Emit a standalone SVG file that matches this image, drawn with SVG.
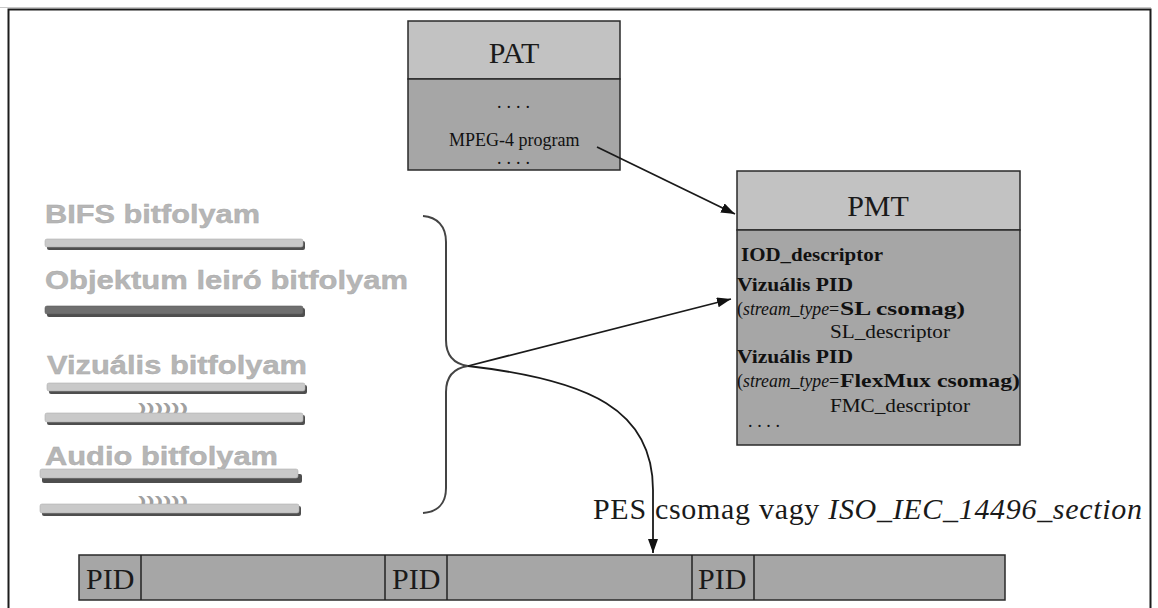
<svg xmlns="http://www.w3.org/2000/svg" width="1158" height="608" viewBox="0 0 1158 608">
<defs>
<style>
.frame{stroke:#1c1c1c;stroke-width:2;fill:none}
.hdr{fill:#c2c2c2;stroke:#2a2a2a;stroke-width:1.5}
.body{fill:#a6a6a6;stroke:#2a2a2a;stroke-width:1.5}
.conn{stroke:#1a1a1a;stroke-width:1.8;fill:none}
.brace{stroke:#444;stroke-width:2;fill:none}
.big{font-family:"Liberation Serif","Times New Roman",serif;font-size:30px;fill:#1a1a1a}
.t{font-family:"Liberation Serif","Times New Roman",serif;font-size:18px;fill:#111}
.b{font-weight:bold}
.i{font-style:italic}
.gray{font-family:"Liberation Sans",Arial,sans-serif;font-weight:bold;font-size:25px;fill:#b6b6b6;stroke:#a8a8a8;stroke-width:0.4}
.tick{font-family:"Liberation Sans",Arial,sans-serif;font-weight:bold;font-size:12px;fill:#a0a0a0}
.barL{fill:#c9c9c9;stroke:#b0b0b0;stroke-width:0.6}
.barD{fill:#6f6f6f;stroke:#5a5a5a;stroke-width:0.6}
.shadow{fill:#4e4e4e}
</style>
<marker id="ah" markerUnits="userSpaceOnUse" markerWidth="15" markerHeight="11" refX="14" refY="5" orient="auto">
<path d="M0,0 L14,5 L0,10 z" fill="#111"/>
</marker>
</defs>
<rect width="1158" height="608" fill="#ffffff"/>
<g id="frame">
<line x1="0" y1="7.5" x2="1151" y2="7.5" stroke="#c8c8c8" stroke-width="1"/>
<path class="frame" d="M8.5,608 L8.5,9.5 L1150.5,9.5 L1150.5,608"/>
</g>

<g id="pat">
<rect class="hdr" x="408" y="21" width="212" height="58"/>
<rect class="body" x="408" y="79" width="212" height="91"/>
<text class="big" x="514" y="63" text-anchor="middle">PAT</text>
<text class="t" x="497" y="108" font-size="20" textLength="33" lengthAdjust="spacing">....</text>
<text class="t" x="449" y="146" font-size="20.5">MPEG-4 program</text>
<text class="t" x="497" y="164" font-size="20" textLength="33" lengthAdjust="spacing">....</text>
</g>

<g id="pmt">
<rect class="hdr" x="737" y="171" width="283" height="59"/>
<rect class="body" x="737" y="230" width="283" height="215"/>
<text class="big" x="878" y="216" text-anchor="middle">PMT</text>
<text class="t b" x="741" y="261" textLength="142" lengthAdjust="spacingAndGlyphs">IOD_descriptor</text>
<text class="t b" x="737" y="291" textLength="116" lengthAdjust="spacingAndGlyphs">Vizuális PID</text>
<text class="t" x="737" y="315">(</text>
<text class="t i" x="743" y="315" textLength="86" lengthAdjust="spacingAndGlyphs">stream_type</text>
<text class="t" x="829" y="315">=</text>
<text class="t b" x="840" y="315" textLength="125" lengthAdjust="spacingAndGlyphs">SL csomag)</text>
<text class="t" x="830" y="338" textLength="120" lengthAdjust="spacingAndGlyphs">SL_descriptor</text>
<text class="t b" x="737" y="363" textLength="116" lengthAdjust="spacingAndGlyphs">Vizuális PID</text>
<text class="t" x="737" y="387">(</text>
<text class="t i" x="743" y="387" textLength="86" lengthAdjust="spacingAndGlyphs">stream_type</text>
<text class="t" x="829" y="387">=</text>
<text class="t b" x="840" y="387" textLength="180" lengthAdjust="spacingAndGlyphs">FlexMux csomag)</text>
<text class="t" x="830" y="412" textLength="140" lengthAdjust="spacingAndGlyphs">FMC_descriptor</text>
<text class="t" x="748" y="427" textLength="32" lengthAdjust="spacing">....</text>
</g>

<g id="streams">
<text class="gray" x="45" y="223" textLength="215" lengthAdjust="spacingAndGlyphs">BIFS bitfolyam</text>
<rect class="shadow" x="47" y="241" width="258" height="9" rx="2"/>
<rect class="barL" x="45" y="239" width="258" height="8" rx="2"/>

<text class="gray" x="45" y="289" textLength="363" lengthAdjust="spacingAndGlyphs">Objektum leiró bitfolyam</text>
<rect class="shadow" x="47" y="308" width="258" height="9" rx="2"/>
<rect class="barD" x="45" y="306" width="258" height="8" rx="2"/>

<text class="gray" x="47" y="374" textLength="260" lengthAdjust="spacingAndGlyphs">Vizuális bitfolyam</text>
<rect class="shadow" x="49" y="385" width="258" height="9" rx="2"/>
<rect class="barL" x="47" y="383" width="258" height="8" rx="2"/>
<text class="tick" x="138" y="412" textLength="50" lengthAdjust="spacingAndGlyphs">))))))</text>
<rect class="shadow" x="47" y="415" width="258" height="10" rx="2"/>
<rect class="barL" x="45" y="413" width="258" height="9" rx="2"/>

<text class="gray" x="45" y="465" textLength="233" lengthAdjust="spacingAndGlyphs">Audio bitfolyam</text>
<rect class="shadow" x="42" y="474" width="260" height="9" rx="2"/>
<rect class="barL" x="40" y="469" width="258" height="9" rx="2"/>
<text class="tick" x="138" y="505" textLength="50" lengthAdjust="spacingAndGlyphs">))))))</text>
<rect class="shadow" x="42" y="506" width="259" height="10" rx="2"/>
<rect class="barL" x="40" y="504" width="259" height="9" rx="2"/>
</g>

<g id="brace">
<path class="brace" d="M423,216 C437,217 446,226 446,242 L446,340 C446,356 455,364 468,366 C455,368 446,376 446,392 L446,488 C446,504 437,512 423,513"/>
</g>

<g id="ts">
<rect class="body" x="79" y="555" width="926" height="45"/>
<line x1="141" y1="555" x2="141" y2="600" stroke="#222" stroke-width="1.5"/>
<line x1="385" y1="555" x2="385" y2="600" stroke="#222" stroke-width="1.5"/>
<line x1="447" y1="555" x2="447" y2="600" stroke="#222" stroke-width="1.5"/>
<line x1="692" y1="555" x2="692" y2="600" stroke="#222" stroke-width="1.5"/>
<line x1="754" y1="555" x2="754" y2="600" stroke="#222" stroke-width="1.5"/>
<text class="big" x="86" y="589">PID</text>
<text class="big" x="392" y="589">PID</text>
<text class="big" x="698" y="589">PID</text>
</g>

<g id="label">
<text class="big" x="593" y="519" textLength="549" lengthAdjust="spacing">PES csomag vagy <tspan class="i">ISO_IEC_14496_section</tspan></text>
</g>

<g id="connectors">
<line class="conn" x1="597" y1="147" x2="735" y2="214" marker-end="url(#ah)"/>
<line class="conn" x1="468" y1="366" x2="731" y2="299" marker-end="url(#ah)"/>
<path class="conn" d="M468,366 C590,380 653,410 653,490 L653,553" marker-end="url(#ah)"/>
</g>
</svg>
